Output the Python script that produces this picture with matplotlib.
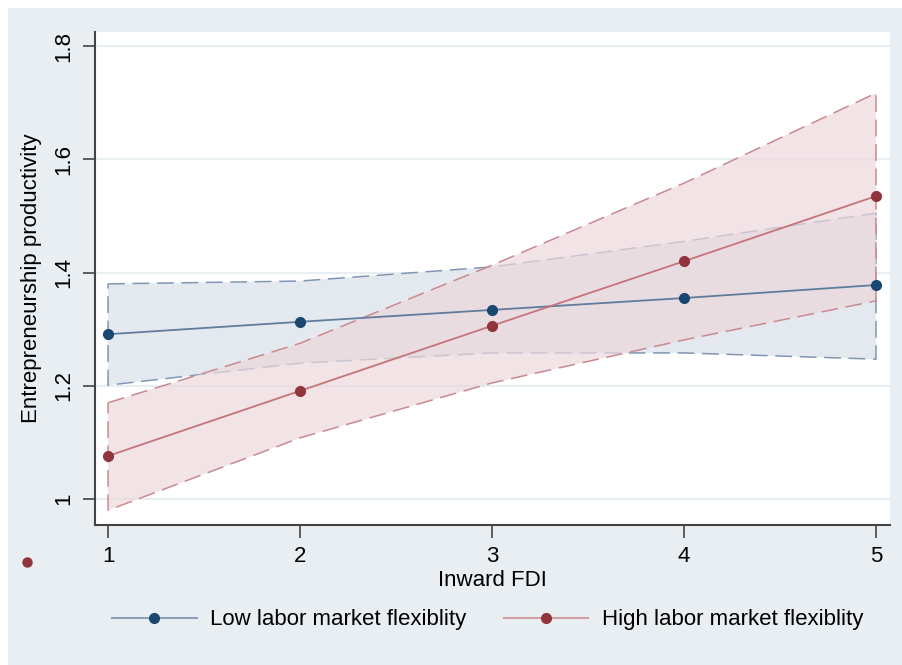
import matplotlib.pyplot as plt
import matplotlib.patches as mpatches
from matplotlib.lines import Line2D

plt.rcParams['font.family'] = ['Liberation Sans', 'DejaVu Sans']

fdi = [1, 2, 3, 4, 5]

low_fit = [1.291, 1.313, 1.334, 1.355, 1.378]
low_hi = [1.380, 1.385, 1.410, 1.455, 1.505]
low_lo = [1.201, 1.240, 1.258, 1.258, 1.247]

high_fit = [1.076, 1.191, 1.306, 1.420, 1.535]
high_hi = [1.170, 1.275, 1.413, 1.558, 1.717]
high_lo = [0.980, 1.108, 1.205, 1.281, 1.350]

yticks = [1, 1.2, 1.4, 1.6, 1.8]
yticklabels = ['1', '1.2', '1.4', '1.6', '1.8']

navy = '#1a476f'
maroon = '#90353b'
bg = '#e8eef2'

fig = plt.figure(figsize=(9.03, 6.65), dpi=100)
fig.patch.set_facecolor('white')
fig.add_artist(mpatches.Rectangle((8/903, 0), 1, (665-8)/665, transform=fig.transFigure,
                                  facecolor=bg, edgecolor='none', zorder=-10))

ax = fig.add_axes([95/903, (665-525)/665, (890-95)/903, (525-32)/665])
ax.set_facecolor('white')

dash = (0, (11, 5))
# confidence bands (closed polygons so the end edges get drawn too)
ax.fill(fdi + fdi[::-1], low_hi + low_lo[::-1], facecolor='#e4e8ef',
        edgecolor='#8096b2', linestyle=dash, linewidth=1.1, zorder=2)
ax.fill(fdi + fdi[::-1], high_hi + high_lo[::-1], facecolor=(236/255, 216/255, 220/255, 0.7),
        edgecolor='#c98a8f', linestyle=dash, linewidth=1.1, zorder=3)

ax.plot(fdi, low_fit, color='#5f7c9c', lw=1.3, zorder=4)
ax.plot(fdi, high_fit, color='#c4747a', lw=1.3, zorder=4)
ax.plot(fdi, low_fit, 'o', color=navy, ms=7, zorder=5, clip_on=False)
ax.plot(fdi, high_fit, 'o', color=maroon, ms=7, zorder=5, clip_on=False)

ax.set_xlim(0.932, 5.073)
ax.set_ylim(0.954, 1.825)
ax.set_xticks(fdi)
ax.set_yticks(yticks)
ax.set_yticklabels(yticklabels, rotation=90, va='center')
ax.tick_params(axis='both', labelsize=16, length=9, width=1.2, color='#444444', pad=6)
ax.grid(axis='y', color=bg, lw=1.6, zorder=1)
ax.set_axisbelow(True)
for s in ['top', 'right']:
    ax.spines[s].set_visible(False)
for s in ['left', 'bottom']:
    ax.spines[s].set_color('#444444')
    ax.spines[s].set_linewidth(1.5)

ax.set_xlabel('Inward FDI', fontsize=16, labelpad=2)
ax.set_ylabel('Entrepreneurship productivity', fontsize=16, labelpad=8)

handles = [Line2D([], [], color='#8ca0b8', lw=1.5, marker='o', ms=7, mfc=navy, mec=navy),
           Line2D([], [], color='#d2a0a4', lw=1.5, marker='o', ms=7, mfc=maroon, mec=maroon)]
fig.legend(handles, ['Low labor market flexiblity', 'High labor market flexiblity'],
           loc='center', bbox_to_anchor=(0.54, (665-620)/665), ncol=2, frameon=False,
           fontsize=16, handlelength=3.8, handletextpad=0.6, columnspacing=1.7)

# stray marker sitting in the left margin of the original
fig.add_artist(Line2D([27/903], [(665-562)/665], marker='o', ms=6.5, color=maroon,
                      transform=fig.transFigure))

fig.savefig('out.png', dpi=100)
